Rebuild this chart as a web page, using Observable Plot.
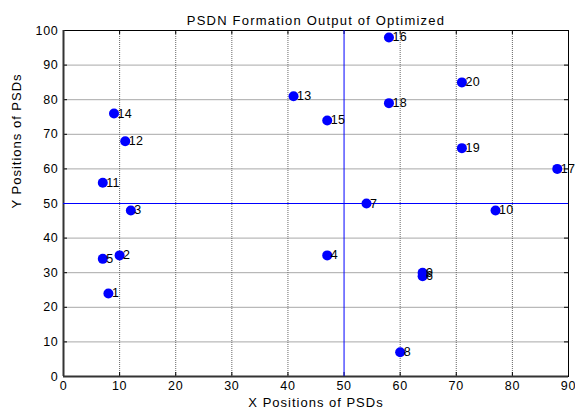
<!DOCTYPE html>
<html>
<head>
<meta charset="utf-8">
<script src="https://cdn.jsdelivr.net/npm/d3@7"></script>
<script src="https://cdn.jsdelivr.net/npm/@observablehq/plot@0.6"></script>
<style>
  html, body { margin: 0; padding: 0; background: #fff; }
  svg { display: block; }
</style>
</head>
<body>
<div id="chart"></div>
<script>
const ids = [1,2,3,4,5,6,7,8,9,10,11,12,13,14,15,16,17,18,19,20];
const xs  = [8,10,12,47,7,64,54,60,64,77,7,11,41,9,47,58,88,58,71,71];
const ys  = [24,35,48,35,34,29,50,7,30,48,56,68,81,76,74,98,60,79,66,85];
const xTicks = [0,10,20,30,40,50,60,70,80,90];
const yTicks = [0,10,20,30,40,50,60,70,80,90,100];
const xGrid = [10,20,30,40,60,70,80];
const yGrid = [10,20,30,40,60,70,80,90];
const centerX = [50];
const centerY = [50];
const title = "PSDN Formation Output of Optimized";
const xLabel = "X Positions of PSDs";
const yLabel = "Y Positions of PSDs";

const points = ids.map((id, i) => ({id, x: xs[i], y: ys[i]}));
const font = "Liberation Sans, Arial, sans-serif";

const chart = Plot.plot({
  width: 575,
  height: 414,
  marginLeft: 63,
  marginRight: 7,
  marginTop: 30,
  marginBottom: 38,
  style: {fontFamily: font, fontSize: "12px", background: "#fff", color: "#000"},
  x: {domain: [0, 90], ticks: xTicks},
  y: {domain: [0, 100], ticks: yTicks},
  marks: [
    Plot.ruleY(yGrid, {stroke: "#a8a8a8", strokeWidth: 1}),
    Plot.ruleX(xGrid, {stroke: "#666", strokeWidth: 1, strokeDasharray: "1,1"}),
    Plot.frame({stroke: "#000", strokeWidth: 1}),
    Plot.tickX(xTicks, {x: d => d, insetTop: 342, stroke: "#000"}),
    Plot.tickX(xTicks, {x: d => d, insetBottom: 342, stroke: "#000"}),
    Plot.tickY(yTicks, {y: d => d, insetLeft: 501, stroke: "#000"}),
    Plot.tickY(yTicks, {y: d => d, insetRight: 501, stroke: "#000"}),
    Plot.ruleX([0], {stroke: "#333", strokeWidth: 2}),
    Plot.ruleY([0], {stroke: "#333", strokeWidth: 2}),
    Plot.ruleX(centerX, {x: d => d, stroke: "#0000ff", strokeWidth: 1}),
    Plot.ruleY(centerY, {y: d => d, stroke: "#0000ff", strokeWidth: 1}),
    Plot.axisX({ticks: xTicks, tickSize: 0, tickPadding: 5, fontSize: 12.5, label: null}),
    Plot.axisY({ticks: yTicks, tickSize: 0, tickPadding: 5, fontSize: 12.5, label: null}),
    Plot.dot(points, {x: "x", y: "y", r: 5, fill: "#0000ff", stroke: null}),
    Plot.text(points, {x: "x", y: "y", text: "id", dx: 3.5, textAnchor: "start", fontSize: 12.5, fill: "#000"}),
    Plot.text([title], {frameAnchor: "top", dy: -15, fontSize: 13, fill: "#000"}),
    Plot.text([xLabel], {frameAnchor: "bottom", dy: 30, fontSize: 13, fill: "#000"}),
    Plot.text([yLabel], {frameAnchor: "left", dx: -47, dy: 5, rotate: -90, fontSize: 13, fill: "#000"})
  ]
});

// widen lettering to match the reference's wide sans-serif text
const svg = d3.select(chart);
svg.selectAll('g[aria-label="x-axis tick label"] text, g[aria-label="y-axis tick label"] text')
  .style("letter-spacing", "0.7px");
const textGroups = svg.selectAll('g[aria-label="text"]').nodes();
d3.select(textGroups[0]).selectAll("text").style("letter-spacing", "0.3px");
d3.select(textGroups[1]).selectAll("text").style("letter-spacing", "1.2px");
d3.select(textGroups[2]).selectAll("text").style("letter-spacing", "1px");
d3.select(textGroups[3]).selectAll("text").style("letter-spacing", "1px");

document.getElementById("chart").appendChild(chart);
</script>
</body>
</html>
